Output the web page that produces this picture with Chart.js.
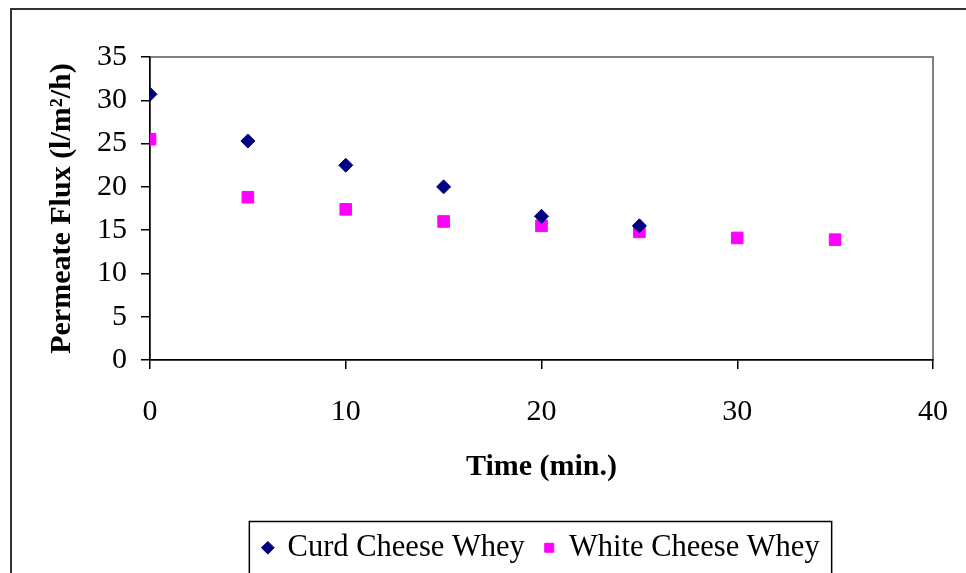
<!DOCTYPE html>
<html>
<head>
<meta charset="utf-8">
<script src="https://cdn.jsdelivr.net/npm/chart.js@4/dist/chart.umd.min.js"></script>
<style>
  html, body { margin: 0; padding: 0; background: #fff; }
  #wrap { width: 966px; height: 573px; }
</style>
</head>
<body>
<div id="wrap"><canvas id="fluxChart" width="966" height="573"></canvas></div>
<script>
// permeate flux readings, sampled every 5 minutes
const curdTime = [0, 5, 10, 15, 20, 25];
const curdFlux = [30.7, 25.3, 22.5, 20.0, 16.6, 15.5];
const whiteTime = [0, 5, 10, 15, 20, 25, 30, 35];
const whiteFlux = [25.5, 18.8, 17.4, 16.0, 15.5, 14.8, 14.1, 13.9];

const yTicks = [0, 5, 10, 15, 20, 25, 30, 35];
const xTicks = [0, 10, 20, 30, 40];

const serif = "'Liberation Serif', 'Times New Roman', serif";

function toPoints(xs, ys) {
  return xs.map((x, i) => ({ x: x, y: ys[i] }));
}

// white page, outer frame and grey plot border
const framePlugin = {
  id: 'frame',
  beforeDraw(chart) {
    const c = chart.ctx;
    const a = chart.chartArea;
    c.save();
    c.fillStyle = '#fff';
    c.fillRect(0, 0, chart.width, chart.height);
    c.strokeStyle = '#333';
    c.lineWidth = 2;
    c.strokeRect(11, 9, chart.width + 20, chart.height + 20);
    c.strokeStyle = '#808080';
    c.lineWidth = 2;
    c.strokeRect(a.left, a.top, a.right - a.left, a.bottom - a.top);
    c.restore();
  },
  afterDraw(chart) {
    // box around the legend entries
    const lg = chart.legend;
    if (!lg || !lg.legendHitBoxes.length) return;
    const hb = lg.legendHitBoxes;
    const first = hb[0];
    const last = hb[hb.length - 1];
    const c = chart.ctx;
    c.save();
    c.strokeStyle = '#000';
    c.lineWidth = 1.5;
    c.strokeRect(first.left - 14, first.top - 11, last.left + last.width - first.left + 26, 80);
    c.restore();
  }
};

const ctx = document.getElementById('fluxChart').getContext('2d');
const fluxChart = new Chart(ctx, {
  type: 'scatter',
  data: {
    datasets: [{
      label: 'Curd Cheese Whey',
      data: toPoints(curdTime, curdFlux),
      pointStyle: 'rectRot',
      pointRadius: 7,
      pointHoverRadius: 7,
      backgroundColor: '#000080',
      borderColor: '#000080',
      borderWidth: 1
    }, {
      label: 'White Cheese Whey',
      data: toPoints(whiteTime, whiteFlux),
      pointStyle: 'rect',
      pointRadius: 8.2,
      pointHoverRadius: 8.2,
      backgroundColor: '#FF00FF',
      borderColor: '#FF00FF',
      borderWidth: 1
    }]
  },
  options: {
    responsive: false,
    animation: false,
    layout: { padding: { left: 0, top: 57, right: 33, bottom: 0 } },
    plugins: {
      tooltip: { enabled: false },
      legend: {
        position: 'bottom',
        fullSize: false,
        labels: {
          usePointStyle: true,
          boxWidth: 9,
          boxHeight: 9,
          padding: 20,
          color: '#000',
          font: { family: serif, size: 30.5 }
        }
      }
    },
    scales: {
      x: {
        type: 'linear',
        min: 0,
        max: 40,
        afterBuildTicks(scale) { scale.ticks = xTicks.map(v => ({ value: v })); },
        afterFit(scale) {
          scale.height = 152.5;
          scale.paddingLeft = 0;
          scale.paddingRight = 0;
        },
        grid: { drawOnChartArea: false, drawTicks: true, tickLength: 9, color: '#000', lineWidth: 1.5 },
        border: { display: true, color: '#000', width: 1.5 },
        ticks: { color: '#000', padding: 25, maxRotation: 0, font: { family: serif, size: 30 } },
        title: {
          display: true,
          text: 'Time (min.)',
          color: '#000',
          padding: { top: 0, bottom: 27.5 },
          font: { family: serif, size: 30, weight: 'bold' }
        }
      },
      y: {
        type: 'linear',
        min: 0,
        max: 35,
        afterBuildTicks(scale) { scale.ticks = yTicks.map(v => ({ value: v })); },
        afterFit(scale) { scale.width = 150; },
        grid: { drawOnChartArea: false, drawTicks: true, tickLength: 9, color: '#000', lineWidth: 1.5 },
        border: { display: true, color: '#000', width: 1.5 },
        ticks: { color: '#000', padding: 14, font: { family: serif, size: 30 } },
        title: {
          display: true,
          text: 'Permeate Flux (l/m²/h)',
          color: '#000',
          padding: { top: 44, bottom: 0 },
          font: { family: serif, size: 30, weight: 'bold' }
        }
      }
    }
  },
  plugins: [framePlugin]
});
</script>
</body>
</html>
